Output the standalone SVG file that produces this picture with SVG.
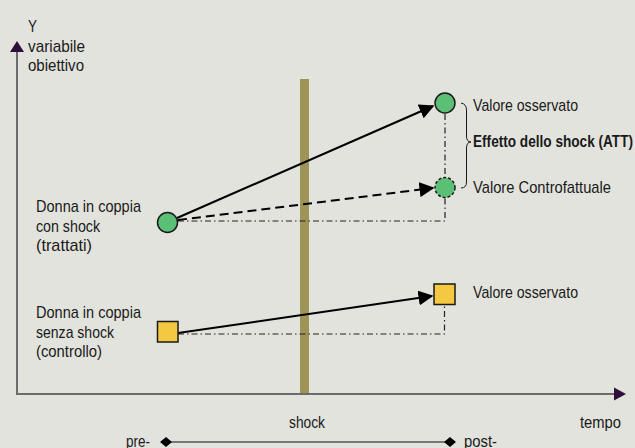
<svg xmlns="http://www.w3.org/2000/svg" width="635" height="448" viewBox="0 0 635 448">
<defs>
<style>
text{font-family:"Liberation Sans",Arial,sans-serif;font-size:17px;fill:#1a1a1a}
.b{font-weight:bold}
.axis{stroke:#6b6b6b;stroke-width:2;fill:none}
.arr{stroke:#000;stroke-width:2;fill:none}
.dd{stroke:#222;stroke-width:1.2;fill:none;stroke-dasharray:6 3 1.5 3}
.green{fill:#5cbf76;stroke:#1a1a1a;stroke-width:1.5}
.yel{fill:#f5c842;stroke:#1a1a1a;stroke-width:1.5}
</style>
<marker id="ahb" viewBox="0 0 10 10" refX="9" refY="5" markerWidth="7.5" markerHeight="7.5" orient="auto">
<path d="M0,0 L10,5 L0,10 z" fill="#000"/>
</marker>
<marker id="dia" viewBox="0 0 12 10" refX="6" refY="5" markerWidth="12" markerHeight="10" markerUnits="userSpaceOnUse">
<path d="M6,0 L12,5 L6,10 L0,5 z" fill="#000"/>
</marker>
</defs>
<rect width="635" height="448" fill="#e2e3dd"/>
<g id="shock-bar"><rect x="300" y="79" width="9" height="315" fill="#9f9457"/></g>
<g id="axes">
<line class="axis" x1="17" y1="395" x2="17" y2="50"/>
<path d="M17,41 L24,52 L10,52 z" fill="#2d0f3a"/>
<line class="axis" x1="16" y1="394" x2="616" y2="394"/>
<path d="M626,394 L614,387.5 L614,400.5 z" fill="#2d0f3a"/>
<text x="28" y="32" textLength="9" lengthAdjust="spacingAndGlyphs">Y</text>
<text x="28" y="52" textLength="57" lengthAdjust="spacingAndGlyphs">variabile</text>
<text x="28" y="71" textLength="56" lengthAdjust="spacingAndGlyphs">obiettivo</text>
<text x="289" y="428" textLength="36" lengthAdjust="spacingAndGlyphs">shock</text>
<text x="580" y="428" textLength="41" lengthAdjust="spacingAndGlyphs">tempo</text>
</g>
<g id="timeline">
<line x1="166" y1="442" x2="450" y2="442" stroke="#555" stroke-width="1.5" marker-start="url(#dia)" marker-end="url(#dia)"/>
<text x="126" y="447" textLength="24" lengthAdjust="spacingAndGlyphs">pre-</text>
<text x="464" y="447" textLength="33" lengthAdjust="spacingAndGlyphs">post-</text>
</g>
<g id="connectors">
<path class="dd" d="M178,221 H445 V198"/>
<path class="dd" d="M445,114 V177"/>
<path class="dd" d="M178,334 H444.5 V306"/>
<line class="arr" x1="177" y1="218" x2="433" y2="106" marker-end="url(#ahb)"/>
<line class="arr" x1="178" y1="220" x2="433" y2="188" stroke-dasharray="9 5" marker-end="url(#ahb)"/>
<line class="arr" x1="178" y1="333" x2="432" y2="296" marker-end="url(#ahb)"/>
<path d="M461,103 Q466.5,104 466.5,110 L466.5,136 Q466.5,142 471,142 Q466.5,142 466.5,148 L466.5,182 Q466.5,188 461,188" fill="none" stroke="#1a1a1a" stroke-width="1"/>
</g>
<g id="treated-pre">
<circle class="green" cx="167.5" cy="222.5" r="10"/>
<text x="36" y="212" textLength="105" lengthAdjust="spacingAndGlyphs">Donna in coppia</text>
<text x="36" y="232" textLength="64" lengthAdjust="spacingAndGlyphs">con shock</text>
<text x="36" y="251" textLength="56" lengthAdjust="spacingAndGlyphs">(trattati)</text>
</g>
<g id="treated-post">
<circle class="green" cx="445" cy="103" r="10"/>
<text x="473" y="111" textLength="105" lengthAdjust="spacingAndGlyphs">Valore osservato</text>
</g>
<g id="counterfactual">
<circle class="green" cx="445" cy="187.5" r="10" stroke-dasharray="3 2"/>
<text x="473" y="193" textLength="138" lengthAdjust="spacingAndGlyphs">Valore Controfattuale</text>
</g>
<g id="effect"><text class="b" x="473" y="147" textLength="160" lengthAdjust="spacingAndGlyphs">Effetto dello shock (ATT)</text></g>
<g id="control-pre">
<rect class="yel" x="157.5" y="321.5" width="20.5" height="20.5"/>
<text x="36" y="318" textLength="105" lengthAdjust="spacingAndGlyphs">Donna in coppia</text>
<text x="36" y="338" textLength="78" lengthAdjust="spacingAndGlyphs">senza shock</text>
<text x="36" y="357" textLength="66" lengthAdjust="spacingAndGlyphs">(controllo)</text>
</g>
<g id="control-post">
<rect class="yel" x="434" y="284" width="21" height="20.5"/>
<text x="473" y="298" textLength="105" lengthAdjust="spacingAndGlyphs">Valore osservato</text>
</g>
</svg>
